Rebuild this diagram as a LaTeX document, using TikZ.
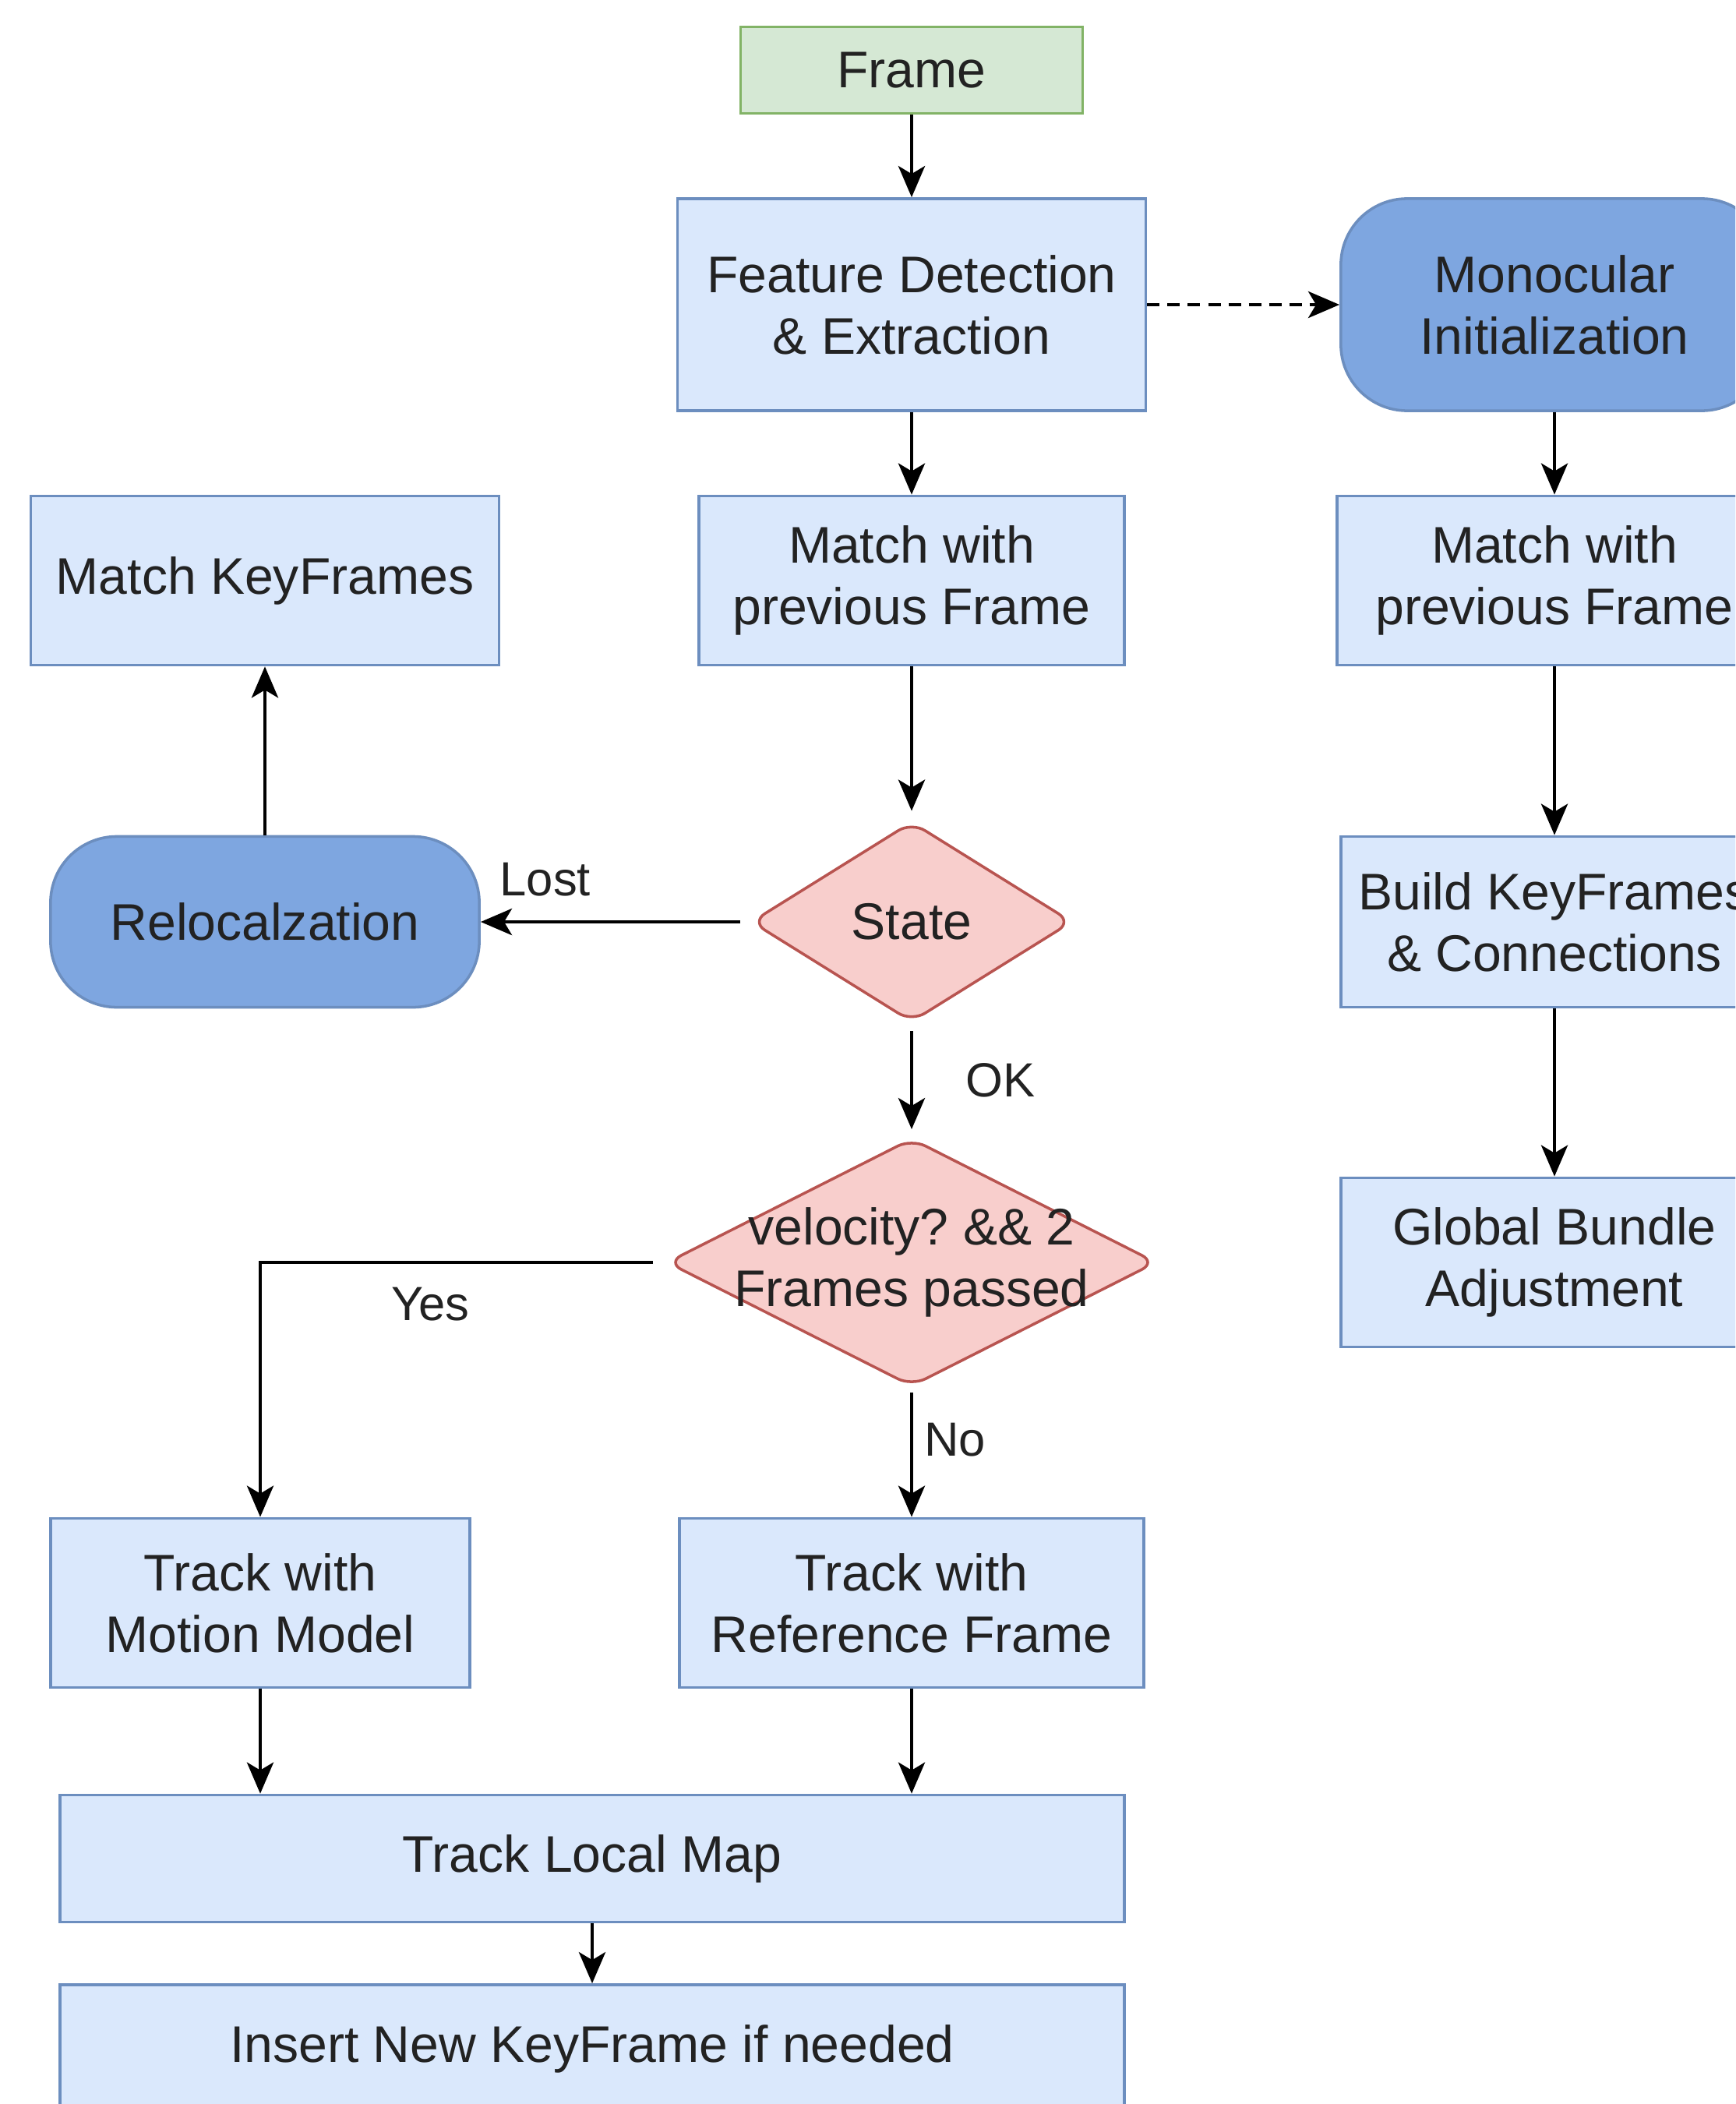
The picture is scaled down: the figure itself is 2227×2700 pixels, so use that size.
\documentclass[tikz,border=0pt]{standalone}
\usepackage{fontspec}
\setmainfont{Liberation Sans}
\usetikzlibrary{shapes.geometric,arrows.meta}

\definecolor{boxfill}{HTML}{DAE8FC}
\definecolor{boxline}{HTML}{6C8EBF}
\definecolor{startfill}{HTML}{D5E8D4}
\definecolor{startline}{HTML}{82B366}
\definecolor{darkfill}{HTML}{7EA6E0}
\definecolor{decfill}{HTML}{F8CECC}
\definecolor{decline}{HTML}{B85450}
\definecolor{txt}{HTML}{222222}

\tikzset{
	box/.style={rectangle, draw=boxline, fill=boxfill, line width=1pt, text=txt, align=center, inner sep=0pt, font=\fontsize{18.8}{22.5}\selectfont},
	startbox/.style={box, draw=startline, fill=startfill},
	darkbox/.style={box, fill=darkfill, rounded corners=0.85cm},
	decision/.style={box, diamond, draw=decline, fill=decfill, rounded corners=0.2cm},
	arr/.style={line width=1.4pt, -{Stealth[length=0.4cm, width=0.34cm, inset=0.1cm]}},
	lbl/.style={inner sep=0pt, text=txt, font=\fontsize{17.5}{21}\selectfont}
}
\frenchspacing

\begin{document}
\begin{tikzpicture}[x=0.01cm, y=-0.01cm]
			% page
			\useasboundingbox (0,0) rectangle (2227,2700);
			\fill[white] (0,0) rectangle (2227,2700);
			\clip (0,0) rectangle (2227,2700);

			% tracking column
			\node[startbox, minimum width=4.39cm, minimum height=1.11cm] (frame) at (1170,90) {Frame};
			\node[box, minimum width=6.01cm, minimum height=2.72cm] (feat) at (1170,391) {Feature Detection\\\& Extraction};
			\node[box, minimum width=5.46cm, minimum height=2.17cm] (match) at (1170,745) {Match with\\previous Frame};
			\node[decision, minimum width=4.12cm, minimum height=2.57cm] (state) at (1170,1183) {State};
			\node[decision, minimum width=6.28cm, minimum height=3.18cm, label={[lbl, font=\fontsize{18.8}{22.5}\selectfont, align=center]center:velocity? \&\& 2\\Frames passed}] (vel) at (1170,1620) {};
			\node[box, minimum width=5.96cm, minimum height=2.17cm] (refer) at (1170,2057) {Track with\\Reference Frame};

			% left side
			\node[box, minimum width=6.01cm, minimum height=2.17cm] (keyfr) at (340,745) {Match KeyFrames};
			\node[darkbox, minimum width=5.5cm, minimum height=2.19cm] (reloc) at (340,1183) {Relocalzation};
			\node[box, minimum width=5.38cm, minimum height=2.17cm] (motion) at (334,2057) {Track with\\Motion Model};
			\node[box, minimum width=13.65cm, minimum height=1.63cm] (map) at (760,2385) {Track Local Map};
			\node[box, minimum width=13.65cm, minimum height=1.64cm] (insert) at (760,2629) {Insert New KeyFrame if needed};

			% initialization column
			\node[darkbox, minimum width=5.48cm, minimum height=2.72cm] (mono) at (1995,391) {Monocular\\Initialization};
			\node[box, minimum width=5.58cm, minimum height=2.17cm] (match2) at (1995,745) {Match with\\previous Frame};
			\node[box, minimum width=5.48cm, minimum height=2.19cm] (build) at (1995,1183) {Build KeyFrames\\\& Connections};
			\node[box, minimum width=5.48cm, minimum height=2.17cm] (bundle) at (1995,1620) {Global Bundle\\Adjustment};

			% arrows
			\draw[arr] (frame) -- (feat);
			\draw[arr, dash pattern=on 0.16cm off 0.1cm] (feat) -- (mono);
			\draw[arr] (feat) -- (match);
			\draw[arr, shorten >=0.12cm] (match) -- (state);
			\draw[arr, shorten <=0.12cm] (state) -- node[lbl, pos=0.76, above=0.3cm] {Lost} (reloc);
			\draw[arr] (reloc) -- (keyfr);
			\draw[arr, shorten <=0.1cm, shorten >=0.1cm] (state) -- node[lbl, midway, right=0.67cm] {OK} (vel);
			\draw[arr, shorten <=0.16cm] (vel.west) -| node[lbl, pos=0.29, below=0.3cm] {Yes} (motion);
			\draw[arr, shorten <=0.06cm] (vel) -- node[lbl, pos=0.4, right=0.14cm] {No} (refer);
			\draw[arr] (motion) -- (motion |- map.north);
			\draw[arr] (refer) -- (refer |- map.north);
			\draw[arr] (map) -- (insert);
			\draw[arr] (mono) -- (match2);
			\draw[arr] (match2) -- (build);
			\draw[arr] (build) -- (bundle);
\end{tikzpicture}
\end{document}
